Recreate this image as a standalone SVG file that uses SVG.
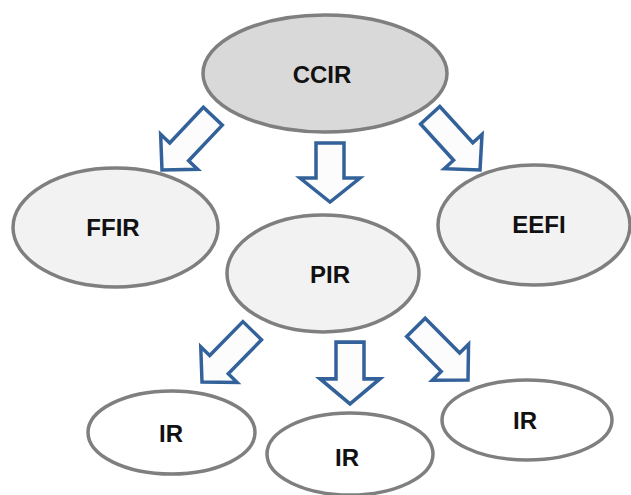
<svg xmlns="http://www.w3.org/2000/svg" xmlns:xlink="http://www.w3.org/1999/xlink" width="631" height="495" viewBox="0 0 631 495">
<style>
.node ellipse{stroke:#7f7f7f;stroke-width:3.5}
.lbl{font-family:"Liberation Sans",Arial,sans-serif;font-size:24px;font-weight:bold;fill:#111;text-anchor:middle}
.arr{fill:#fcfcfc;stroke:#33619a;stroke-width:3.5;stroke-linejoin:miter}
</style>
<defs>
<path id="arrDiag" d="M-13,-74 L13,-74 L13,-25 L25.5,-25 L0,0 L-25.5,-25 L-13,-25 Z"/>
<path id="arrDown" d="M-14,-59 L14,-59 L14,-24 L30,-24 L0,0 L-30,-24 L-14,-24 Z"/>
</defs>
<rect width="631" height="495" fill="#ffffff"/>
<g id="CCIR" class="node"><ellipse cx="325" cy="73.5" rx="122" ry="58.5" fill="#d9d9d9"/><text class="lbl" x="322" y="83">CCIR</text></g>
<g id="FFIR" class="node"><ellipse cx="115.5" cy="227.5" rx="102.5" ry="59.5" fill="#f2f2f2"/><text class="lbl" x="113" y="236">FFIR</text></g>
<g id="PIR" class="node"><ellipse cx="323" cy="273.5" rx="96" ry="58.5" fill="#f2f2f2"/><text class="lbl" x="330" y="283">PIR</text></g>
<g id="EEFI" class="node"><ellipse cx="534" cy="225" rx="96" ry="60" fill="#f2f2f2"/><text class="lbl" x="539" y="233">EEFI</text></g>
<g id="IR1" class="node"><ellipse cx="171.5" cy="432.5" rx="83.5" ry="41.5" fill="#ffffff"/><text class="lbl" x="171" y="442">IR</text></g>
<g id="IR2" class="node"><ellipse cx="350" cy="454" rx="83" ry="41" fill="#ffffff"/><text class="lbl" x="347" y="466">IR</text></g>
<g id="IR3" class="node"><ellipse cx="527" cy="420" rx="85" ry="40" fill="#ffffff"/><text class="lbl" x="525" y="429">IR</text></g>
<g id="connectors">
<use xlink:href="#arrDiag" class="arr" transform="translate(162,170) rotate(43.4)"/>
<use xlink:href="#arrDown" class="arr" transform="translate(330,202)"/>
<use xlink:href="#arrDiag" class="arr" transform="translate(480,170) rotate(-42.3)"/>
<use xlink:href="#arrDiag" class="arr" transform="translate(202,382) rotate(44.4) scale(1,0.97)"/>
<use xlink:href="#arrDown" class="arr" transform="translate(350,404) scale(1,1.05)"/>
<use xlink:href="#arrDiag" class="arr" transform="translate(468,380) rotate(-44.7)"/>
</g>
</svg>
